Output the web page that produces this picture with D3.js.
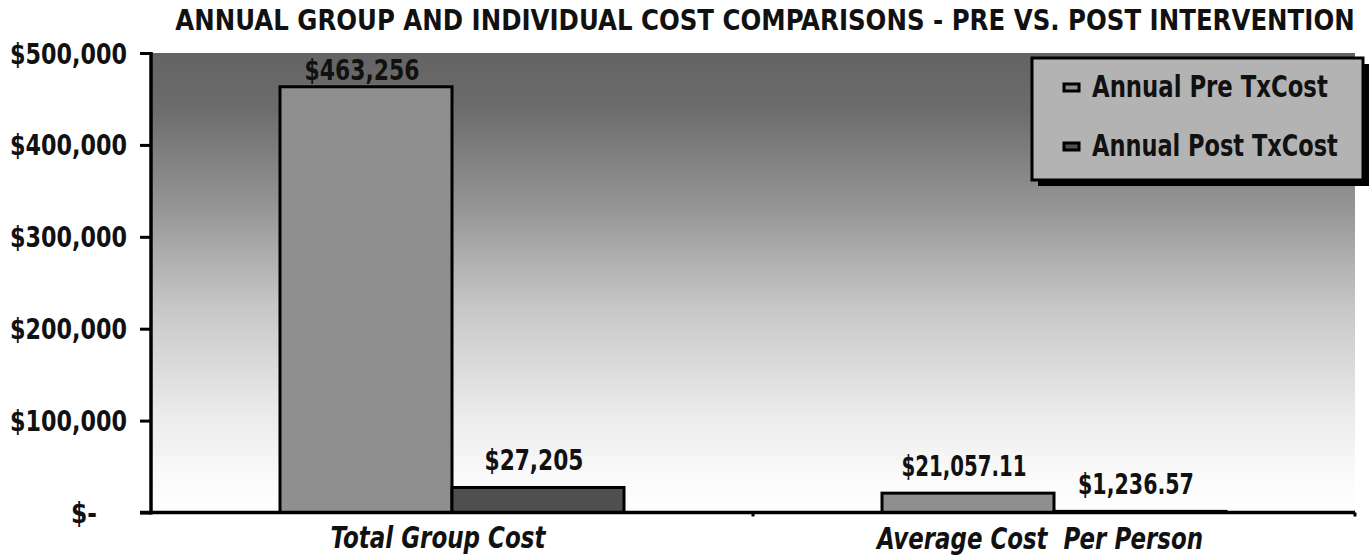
<!DOCTYPE html>
<html lang="en">
<head>
<meta charset="UTF-8">
<title>Annual cost comparisons</title>
<script src="https://cdn.jsdelivr.net/npm/d3@7"></script>
<style>
  body { margin: 0; background: #fff; }
  text { font-family: "DejaVu Sans Condensed", "DejaVu Sans", sans-serif; font-weight: bold; fill: #111; white-space: pre; }
</style>
</head>
<body>
<svg id="chart" width="1370" height="556"></svg>
<script>
// data
const categories = ["Total Group Cost", "Average Cost  Per Person"];
const seriesNames = ["Annual Pre TxCost", "Annual Post TxCost"];
const preValues = [463256, 21057.11];
const postValues = [27205, 1236.57];
const valueLabels = [["$463,256", "$27,205"], ["$21,057.11", "$1,236.57"]];
const yTicks = [0, 100000, 200000, 300000, 400000, 500000];
const yTickLabels = ["$-", "$100,000", "$200,000", "$300,000", "$400,000", "$500,000"];
const colors = ["#8f8f8f", "#4f4f4f"];

// the reference uses a heavy condensed face, so squeeze text to its measured widths
const widthOf = {
  "$463,256": 115, "$27,205": 99, "$21,057.11": 125, "$1,236.57": 116,
  "Total Group Cost": 215, "Average Cost  Per Person": 326,
  "Annual Pre TxCost": 236, "Annual Post TxCost": 246, "$-": 26
};

function squeeze(sel, w) {
  sel.each(function (d, i) {
    const t = d3.select(this);
    const target = typeof w === "function" ? w(d, i) : w;
    const natural = this.getComputedTextLength();
    if (!target || natural <= target) return;
    const x = +t.attr("x") || 0, yy = +t.attr("y") || 0;
    t.attr("transform", `translate(${x},${yy}) scale(${target / natural},1) translate(${-x},${-yy})`);
  });
}

const svg = d3.select("#chart");
const plotLeft = 151, plotRight = 1355, plotTop = 53, plotBottom = 512.5;

const x0 = d3.scaleBand().domain(categories).range([plotLeft, plotRight]).padding(0);
const x1 = d3.scaleBand().domain(seriesNames).range([0, x0.bandwidth()])
  .paddingInner(0).paddingOuter(0.75);
const y = d3.scaleLinear().domain([0, 500000]).range([plotBottom, plotTop]);

// plot background gradient
const defs = svg.append("defs");
const grad = defs.append("linearGradient").attr("id", "bg")
  .attr("x1", 0).attr("y1", 0).attr("x2", 0).attr("y2", 1);
[[0, "#646464"], [0.12, "#6c6c6c"], [0.35, "#989898"], [0.55, "#c6c6c6"], [0.78, "#eaeaea"], [0.92, "#fafafa"], [1, "#ffffff"]]
  .forEach(s => grad.append("stop").attr("offset", s[0]).attr("stop-color", s[1]));

svg.append("rect").attr("x", plotLeft).attr("y", plotTop)
  .attr("width", plotRight - plotLeft).attr("height", plotBottom - plotTop)
  .attr("fill", "url(#bg)");

// title
svg.append("text").attr("x", 765).attr("y", 30)
  .attr("text-anchor", "middle").style("font-size", "28px")
  .text("ANNUAL GROUP AND INDIVIDUAL COST COMPARISONS - PRE VS. POST INTERVENTION")
  .call(squeeze, 1180);

// bars
const rows = categories.map((c, i) => ({ cat: c, vals: [preValues[i], postValues[i]], labels: valueLabels[i] }));
const groups = svg.append("g").selectAll("g").data(rows).join("g")
  .attr("transform", d => `translate(${x0(d.cat)},0)`);

groups.selectAll("rect").data(d => d.vals.map((v, j) => ({ s: seriesNames[j], v, j })))
  .join("rect")
  .attr("x", d => x1(d.s))
  .attr("y", d => y(d.v))
  .attr("width", x1.bandwidth())
  .attr("height", d => plotBottom - y(d.v))
  .attr("fill", d => colors[d.j])
  .attr("stroke", "#000").attr("stroke-width", 3);

groups.selectAll("text.val").data(d => d.vals.map((v, j) => ({ s: seriesNames[j], v, label: d.labels[j] })))
  .join("text").attr("class", "val")
  .attr("x", d => x1(d.s) + x1.bandwidth() / 2 - 4)
  .attr("y", d => Math.max(y(d.v) - 17, 80))
  .attr("text-anchor", "middle").style("font-size", "28px")
  .text(d => d.label)
  .call(squeeze, d => widthOf[d.label]);

// y axis
const yAxis = svg.append("g").attr("transform", `translate(${plotLeft},0)`)
  .call(d3.axisLeft(y).tickValues(yTicks).tickSize(11).tickPadding(13)
    .tickFormat((d, i) => yTickLabels[i]));
yAxis.select(".domain").attr("stroke", "#000").attr("stroke-width", 3.5).attr("d", `M0,${plotTop - 1}V${plotBottom + 2}`);
yAxis.selectAll(".tick line").attr("stroke", "#000").attr("stroke-width", 3);
yAxis.selectAll(".tick text").style("font-size", "28px").attr("fill", "#111")
  .attr("font-family", null).attr("dy", "0.36em")
  .attr("x", d => d === 0 ? -54 : -24)
  .call(squeeze, (d, i) => widthOf[yTickLabels[i]] || 117);

// x axis
const xAxis = svg.append("g").attr("transform", `translate(0,${plotBottom})`)
  .call(d3.axisBottom(x0).tickSize(0).tickPadding(14));
xAxis.select(".domain").attr("stroke", "#000").attr("stroke-width", 3.5).attr("d", `M${plotLeft - 11},0H${plotRight}`);
xAxis.selectAll(".tick text").style("font-size", "31px").style("font-style", "italic")
  .attr("fill", "#111").attr("font-family", null).attr("x", -14).attr("dy", "0.71em")
  .call(squeeze, d => widthOf[d]);
svg.append("g").selectAll("line").data([x0.range()[0] + x0.bandwidth(), plotRight]).join("line")
  .attr("x1", d => d).attr("x2", d => d)
  .attr("y1", plotBottom).attr("y2", plotBottom + 4)
  .attr("stroke", "#000").attr("stroke-width", 3);

// legend
const lg = svg.append("g").attr("transform", "translate(1032,58)");
lg.append("rect").attr("x", 6).attr("y", 6).attr("width", 331).attr("height", 122).attr("fill", "#000");
lg.append("rect").attr("x", 0).attr("y", 0).attr("width", 331).attr("height", 122)
  .attr("fill", "#b3b3b3").attr("stroke", "#000").attr("stroke-width", 3);
seriesNames.forEach((n, i) => {
  lg.append("rect").attr("x", 32).attr("y", 26 + i * 59).attr("width", 15).attr("height", 7)
    .attr("fill", colors[i]).attr("stroke", "#000").attr("stroke-width", 3);
  lg.append("text").attr("x", 60).attr("y", 39 + i * 59).style("font-size", "31px")
    .text(n).call(squeeze, widthOf[n]);
});
</script>
</body>
</html>
